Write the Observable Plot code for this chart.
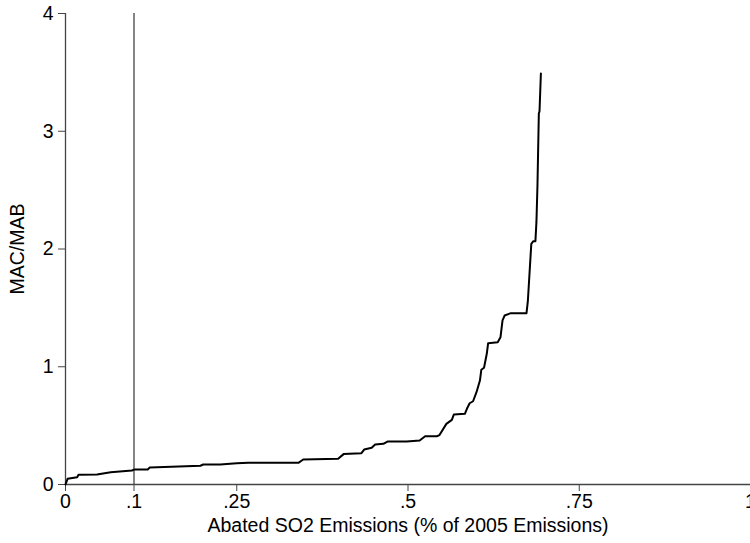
<!DOCTYPE html>
<html>
<head>
<meta charset="utf-8">
<script src="https://cdn.jsdelivr.net/npm/d3@7"></script>
<script src="https://cdn.jsdelivr.net/npm/@observablehq/plot@0.6"></script>
<style>
  html, body { margin: 0; padding: 0; background: white; }
</style>
</head>
<body>
<div id="chart"></div>
<script>
// Abated share of 2005 SO2 emissions (x) and MAC/MAB ratio (y)
const abated = [0, 0.003, 0.017, 0.019, 0.046, 0.066, 0.097, 0.1, 0.12, 0.123, 0.197, 0.201, 0.226, 0.25, 0.267, 0.34, 0.347, 0.398, 0.406, 0.432, 0.436, 0.447, 0.452, 0.464, 0.47, 0.498, 0.517, 0.525, 0.542, 0.546, 0.556, 0.564, 0.567, 0.583, 0.586, 0.59, 0.595, 0.6, 0.605, 0.607, 0.611, 0.615, 0.617, 0.631, 0.635, 0.638, 0.641, 0.65, 0.673, 0.675, 0.68, 0.683, 0.686, 0.6875, 0.689, 0.691, 0.692, 0.694];
const macMab = [0, 0.048, 0.062, 0.082, 0.085, 0.104, 0.119, 0.127, 0.127, 0.144, 0.159, 0.17, 0.17, 0.181, 0.184, 0.184, 0.212, 0.218, 0.258, 0.266, 0.297, 0.312, 0.34, 0.346, 0.365, 0.365, 0.374, 0.41, 0.41, 0.42, 0.515, 0.549, 0.595, 0.6, 0.643, 0.69, 0.707, 0.784, 0.883, 0.974, 0.991, 1.11, 1.2, 1.208, 1.25, 1.393, 1.435, 1.455, 1.455, 1.56, 2.044, 2.066, 2.066, 2.23, 2.54, 3.15, 3.17, 3.49];

const xTicks = [0, 0.1, 0.25, 0.5, 0.75, 1];
const xTickLabels = ["0", ".1", ".25", ".5", ".75", "1"];
const yTicks = [0, 1, 2, 3, 4];
const yTickLabels = ["0", "1", "2", "3", "4"];
const refLine = [0.1];

const data = abated.map((x, i) => ({x, y: macMab[i]}));
const axisColor = "#444";

const chart = Plot.plot({
  width: 750,
  height: 543,
  marginLeft: 65,
  marginRight: 0,
  marginTop: 13,
  marginBottom: 59,
  style: {fontFamily: "'Liberation Sans', Arial, sans-serif", fontSize: "19.5px", color: "black", background: "white"},
  x: {domain: [0, 1]},
  y: {domain: [0, 4]},
  marks: [
    Plot.ruleY([0], {stroke: axisColor, strokeWidth: 1.3}),
    Plot.ruleX([0], {stroke: axisColor, strokeWidth: 1.3}),
    Plot.ruleX(refLine, {stroke: axisColor, strokeWidth: 1.3}),
    Plot.axisX({
      ticks: xTicks,
      tickFormat: d => xTickLabels[xTicks.indexOf(d)],
      tickSize: 7,
      tickPadding: 3,
      stroke: axisColor,
      label: "Abated SO2 Emissions (% of 2005 Emissions)",
      labelAnchor: "center",
      labelArrow: "none",
      labelOffset: 47
    }),
    Plot.axisY({
      ticks: yTicks,
      tickFormat: d => yTickLabels[yTicks.indexOf(d)],
      tickSize: 7,
      tickPadding: 5,
      stroke: axisColor,
      label: "MAC/MAB",
      labelAnchor: "center",
      labelArrow: "none",
      labelOffset: 55
    }),
    Plot.line(data, {x: "x", y: "y", stroke: "black", strokeWidth: 2})
  ]
});
document.getElementById("chart").append(chart);
</script>
</body>
</html>
